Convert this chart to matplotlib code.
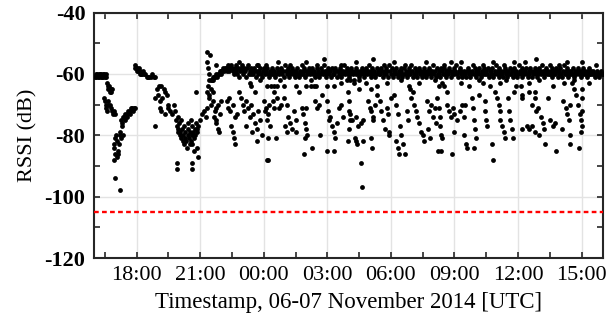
import pandas as pd
import numpy as np
import matplotlib
matplotlib.use('Agg')
import matplotlib.pyplot as plt
import matplotlib.dates as mdates
from matplotlib.ticker import MultipleLocator, FixedLocator

# start of the record, minutes below are counted from here
t0 = pd.Timestamp('2014-11-06 16:00')

# evening part (minutes after 16:00, RSSI dB)
early = [
    (2, -61), (4, -60), (6, -61), (8, -60), (10, -61), (12, -60), (14, -61), (16, -60),
    (18, -61), (20, -60), (22, -61), (24, -60), (26, -61), (28, -60), (30, -61), (32, -61), (34, -60),
    (36, -63), (38, -64), (40, -65), (42, -64), (44, -66), (46, -65), (48, -66), (50, -65),
    (28, -68), (30, -69), (32, -70), (34, -71), (36, -72), (38, -70), (40, -69),
    (44, -70), (47, -71), (50, -72), (53, -73), (56, -72), (58, -73),
    (55, -84), (57, -83), (60, -81), (62, -80), (64, -82), (66, -85), (68, -86), (70, -83),
    (72, -80), (74, -79), (76, -81), (58, -86), (63, -87), (57, -88), (58, -94), (73, -98),
    (76, -75), (80, -74), (84, -74), (88, -73), (92, -73), (96, -72), (100, -72), (104, -71),
    (108, -71), (112, -71), (78, -76), (86, -75), (94, -74), (102, -73), (110, -72), (116, -71),
    (79, -77), (80, -80),
    (114, -57), (116, -58), (118, -58), (120, -58), (122, -59), (124, -59), (127, -58), (130, -59),
    (133, -60), (136, -60), (140, -60), (144, -60), (148, -61), (152, -61), (156, -61), (160, -61),
    (164, -60), (168, -61), (172, -61), (128, -60), (138, -59),
    (178, -65), (184, -64), (190, -64), (196, -65), (200, -66),
    (172, -68), (180, -67), (186, -69), (192, -68), (205, -67), (210, -70),
    (185, -71), (190, -72), (200, -73), (208, -71), (214, -72), (220, -73), (225, -70), (228, -72),
    (172, -77),
    (232, -75), (234, -77), (236, -79), (238, -78), (240, -76), (242, -80), (244, -79), (246, -81),
    (248, -78), (250, -82), (252, -80), (254, -83), (256, -81), (258, -79), (260, -82), (262, -84),
    (264, -80), (266, -78), (268, -81), (270, -83), (272, -79), (274, -82), (276, -80), (278, -77),
    (280, -79), (282, -81), (284, -78), (286, -80), (288, -76), (290, -78), (236, -74), (245, -75),
    (255, -77), (265, -76), (275, -75),
    (233, -89), (233, -91), (276, -89), (276, -91),
    (278, -83), (283, -85), (290, -84), (295, -87),
    (290, -79), (295, -77), (300, -75), (305, -73), (310, -72), (315, -74), (318, -71),
    (289, -66),
    (318, -53), (320, -56), (322, -58), (325, -60), (326, -62), (322, -64), (320, -66), (324, -67),
]

# main band near -60 dB, one reading every 2.5 min from 21:30
band_start = pd.Timestamp('2014-11-06 21:30')
band_rssi = [
    -62, -62, -61, -62, -61, -61, -60, -61, -60, -60, -59, -60, -59, -59, -58, -59, -58, -58, -59, -57, -58, -59, -58, -57,
    -58, -59, -60, -58, -57, -59, -60, -58, -61, -59, -58, -57, -59, -60, -58, -59, -61, -58, -57, -60, -59, -58, -60, -59,
    -60, -58, -59, -61, -59, -57, -60, -59, -58, -60, -61, -59, -58, -60, -59, -57, -58, -60, -61, -59, -60, -58, -59, -60,
    -59, -61, -60, -58, -59, -60, -62, -59, -58, -60, -59, -61, -57, -59, -60, -58, -59, -61, -60, -59, -58, -60, -59, -61,
    -60, -59, -58, -60, -61, -59, -60, -57, -59, -60, -58, -61, -59, -60, -59, -58, -60, -62, -59, -58, -60, -59, -61, -60,
    -58, -60, -59, -61, -60, -58, -59, -60, -57, -59, -61, -60, -59, -58, -60, -59, -61, -58, -60, -59, -60, -58, -59, -61,
    -59, -60, -58, -59, -61, -60, -59, -57, -60, -59, -58, -60, -61, -59, -60, -58, -59, -60, -62, -59, -58, -60, -59, -60,
    -61, -59, -60, -58, -59, -60, -61, -59, -58, -60, -59, -57, -60, -61, -59, -58, -60, -59, -61, -60, -58, -59, -60, -59,
    -60, -58, -59, -61, -60, -59, -58, -60, -59, -61, -57, -59, -60, -58, -61, -59, -60, -59, -58, -60, -61, -59, -60, -58,
    -59, -61, -60, -58, -60, -59, -61, -60, -58, -59, -60, -57, -59, -61, -60, -58, -59, -60, -61, -59, -58, -60, -59, -61,
    -60, -59, -58, -60, -61, -59, -60, -58, -59, -61, -60, -59, -57, -60, -59, -61, -58, -60, -59, -60, -61, -58, -59, -60,
    -58, -60, -59, -61, -59, -60, -58, -59, -61, -60, -59, -58, -60, -59, -57, -60, -61, -59, -58, -60, -59, -61, -60, -59,
    -60, -61, -59, -58, -60, -59, -61, -60, -59, -57, -60, -58, -59, -61, -60, -59, -58, -60, -61, -59, -60, -58, -59, -60,
    -59, -60, -58, -61, -59, -60, -59, -58, -61, -60, -59, -57, -60, -59, -61, -58, -60, -59, -60, -61, -59, -58, -60, -59,
    -61, -59, -60, -58, -60, -59, -61, -59, -58, -60, -59, -61, -60, -57, -59, -60, -58, -61, -59, -60, -59, -58, -60, -61,
    -59, -60, -58, -59, -61, -60, -59, -58, -60, -59, -61, -60, -58, -59, -60, -57, -59, -61, -60, -59, -58, -60, -59, -60,
    -60, -59, -61, -58, -60, -59, -60, -58, -59, -61, -60, -59, -58, -60, -61, -59, -57, -60, -59, -58, -60, -61, -59, -60,
    -59, -60, -58, -60, -61, -59, -60, -59, -58, -60, -59, -61, -60, -59, -58, -60, -59, -60, -61, -59, -60, -58, -60, -59,
    -60, -59, -60, -61, -60, -59, -60, -60, -61, -60, -59, -60, -60,
]

# readings off the band (minutes after 16:00, RSSI dB)
scatter = [
    # above the band
    (328, -54), (345, -57), (410, -56), (460, -57), (520, -56), (555, -57), (600, -56), (650, -55),
    (700, -57), (740, -56), (790, -55), (850, -56), (880, -57), (940, -56), (990, -57), (1040, -56),
    (1100, -57), (1130, -56), (1190, -56), (1250, -55), (1290, -57), (1340, -56), (1380, -56), (1420, -57),
    (630, -57), (820, -57), (1010, -56), (1160, -57), (1220, -56), (1315, -57),
    # just under the band
    (440, -63), (470, -62), (490, -64), (500, -64), (510, -64), (518, -64), (538, -64), (572, -64),
    (601, -64), (615, -64), (622, -64), (629, -64), (658, -64), (680, -64), (700, -63), (725, -62),
    (735, -63), (750, -62), (770, -63), (800, -64), (830, -63), (870, -62), (890, -64), (920, -63),
    (965, -62), (975, -64), (985, -63), (990, -64), (1040, -63), (1060, -64), (1090, -62), (1100, -63),
    (1120, -64), (1150, -63), (1165, -62), (1195, -64), (1230, -63), (1260, -62), (1300, -64), (1330, -63),
    (1360, -62), (1400, -63),
    # 21:30 - 00:00
    (330, -65), (336, -66), (326, -68), (331, -70), (336, -69), (341, -72), (346, -71), (351, -70),
    (356, -73), (360, -69), (345, -75), (339, -74), (345, -76), (350, -78), (353, -79), (375, -69),
    (380, -71), (385, -72), (392, -70), (398, -74), (388, -77), (392, -79), (395, -81), (398, -83),
    (382, -68), (420, -70), (425, -72), (430, -69), (435, -71), (440, -74), (445, -70), (450, -73),
    (455, -76), (460, -78), (465, -72), (470, -75), (475, -80), (480, -69), (485, -71), (490, -88),
    (445, -64), (455, -66), (410, -66), (415, -68), (405, -73), (430, -77), (448, -79), (462, -82),
    # 00:00 - 04:00
    (483, -72), (488, -75), (492, -73), (498, -77), (505, -69), (510, -71), (518, -68), (524, -71),
    (528, -70), (493, -81), (516, -81), (493, -88), (496, -70), (538, -68), (545, -70), (550, -74),
    (555, -76), (560, -78), (565, -72), (570, -75), (545, -79), (541, -77), (572, -79), (588, -71),
    (592, -73), (596, -76), (600, -78), (603, -80), (598, -81), (601, -71), (595, -86), (618, -84),
    (624, -69), (630, -71), (636, -70), (638, -80), (658, -69), (662, -72), (668, -74), (672, -77),
    (678, -79), (682, -81), (688, -76), (692, -71), (665, -75), (660, -85), (680, -85), (716, -62),
    (718, -66), (720, -69), (722, -72), (725, -75), (720, -78), (718, -82), (510, -66), (580, -66),
    (645, -67), (700, -70), (705, -74),
    # 04:00 - 08:20
    (725, -73), (730, -75), (740, -74), (748, -77), (755, -76), (760, -75), (737, -81), (742, -82),
    (745, -83), (762, -82), (754, -89), (757, -97), (776, -69), (780, -71), (785, -72), (790, -74),
    (795, -70), (788, -75), (785, -81), (786, -84), (751, -65), (785, -65), (808, -69), (812, -72),
    (818, -75), (822, -78), (828, -71), (833, -73), (836, -79), (836, -80), (850, -67), (855, -70),
    (860, -73), (865, -77), (870, -80), (875, -83), (880, -86), (885, -72), (888, -75), (855, -82),
    (860, -84), (862, -86), (893, -65), (898, -68), (905, -70), (910, -72), (915, -74), (920, -76),
    (902, -66), (925, -79), (930, -80), (935, -82), (945, -78), (950, -81), (943, -69), (948, -72),
    (955, -70), (960, -74), (965, -71), (968, -76), (974, -85), (800, -67), (840, -68),
    # 08:00 - 12:20
    (972, -68), (975, -71), (978, -74), (980, -77), (983, -80), (986, -81), (981, -85), (1013, -86),
    (1000, -70), (1005, -72), (1010, -74), (1015, -71), (1020, -73), (1028, -75), (1035, -72), (1042, -70),
    (1048, -74), (1050, -70), (1048, -80), (1052, -83), (1055, -84), (1070, -68), (1073, -71), (1075, -75),
    (1078, -78), (1080, -81), (1076, -84), (1106, -69), (1108, -72), (1110, -75), (1112, -77), (1126, -83),
    (1130, -88), (1135, -66), (1140, -68), (1145, -70), (1150, -72), (1150, -75), (1155, -77), (1160, -79),
    (1163, -81), (1172, -68), (1175, -72), (1178, -75), (1182, -78), (1185, -81), (1211, -68), (1211, -78),
    (1000, -66), (1090, -67), (1190, -66), (1020, -79),
    # 12:00 - 16:00
    (1208, -64), (1212, -67), (1225, -77), (1230, -78), (1240, -77), (1248, -79), (1260, -80), (1275, -78),
    (1240, -70), (1250, -72), (1258, -71), (1265, -74), (1272, -76), (1248, -66), (1248, -68), (1277, -83),
    (1308, -85), (1292, -75), (1300, -77), (1306, -76), (1325, -78), (1328, -69), (1335, -71), (1340, -73),
    (1345, -75), (1348, -70), (1348, -80), (1348, -83), (1352, -63), (1358, -65), (1365, -67), (1370, -70),
    (1375, -73), (1378, -75), (1380, -77), (1372, -84), (1380, -65), (1381, -68), (1381, -72), (1379, -79),
    (1232, -66), (1285, -68),
]

threshold = -105

# build one table of all readings
pts = pd.DataFrame(early + scatter, columns=['minute', 'rssi'])
pts['time'] = t0 + pd.to_timedelta(pts['minute'], unit='min')
band = pd.DataFrame({'time': pd.date_range(band_start, periods=len(band_rssi), freq='150s'),
                     'rssi': band_rssi})
data = pd.concat([pts[['time', 'rssi']], band], ignore_index=True)

plt.rcParams['font.family'] = ['Liberation Serif', 'DejaVu Serif']
plt.rcParams['axes.unicode_minus'] = False

fig = plt.figure(figsize=(6.14, 3.29), dpi=100)
ax = fig.add_axes([0.1536, 0.2158, 0.828, 0.7462])

ax.scatter(data['time'], data['rssi'], s=12, color='black', linewidths=0, zorder=3)
ax.axhline(threshold, color='red', lw=1.7, ls=(0, (2, 1.4)), zorder=4)

ax.set_xlim(t0, t0 + pd.Timedelta(hours=24))
ax.set_ylim(-120, -40)

ax.xaxis.set_major_locator(mdates.HourLocator(byhour=range(0, 24, 3)))
ax.xaxis.set_major_formatter(mdates.DateFormatter('%H:%M'))
minor_x = mdates.date2num(pd.date_range(t0 + pd.Timedelta(minutes=30), periods=8, freq='3h'))
ax.xaxis.set_minor_locator(FixedLocator(minor_x))
ax.yaxis.set_major_locator(MultipleLocator(20))
ax.yaxis.set_minor_locator(MultipleLocator(10))

ax.grid(True, which='major', color='#e3e3e3', lw=1.0, zorder=0)
ax.set_axisbelow(True)

ax.tick_params(which='both', direction='in', top=True, right=True, width=1.2, color='#262626',
               length=4.5)
ax.tick_params(axis='x', labelsize=16, pad=6)
ax.tick_params(axis='y', labelsize=16, pad=6.5)
for lab in ax.get_yticklabels():
    lab.set_fontweight('bold')

for sp in ax.spines.values():
    sp.set_linewidth(1.5)
    sp.set_color('#262626')

ax.set_xlabel('Timestamp, 06-07 November 2014 [UTC]', fontsize=16.5, labelpad=5)
ax.set_ylabel('RSSI (dB)', fontsize=16, labelpad=5)

fig.savefig('out.png', dpi=100)
